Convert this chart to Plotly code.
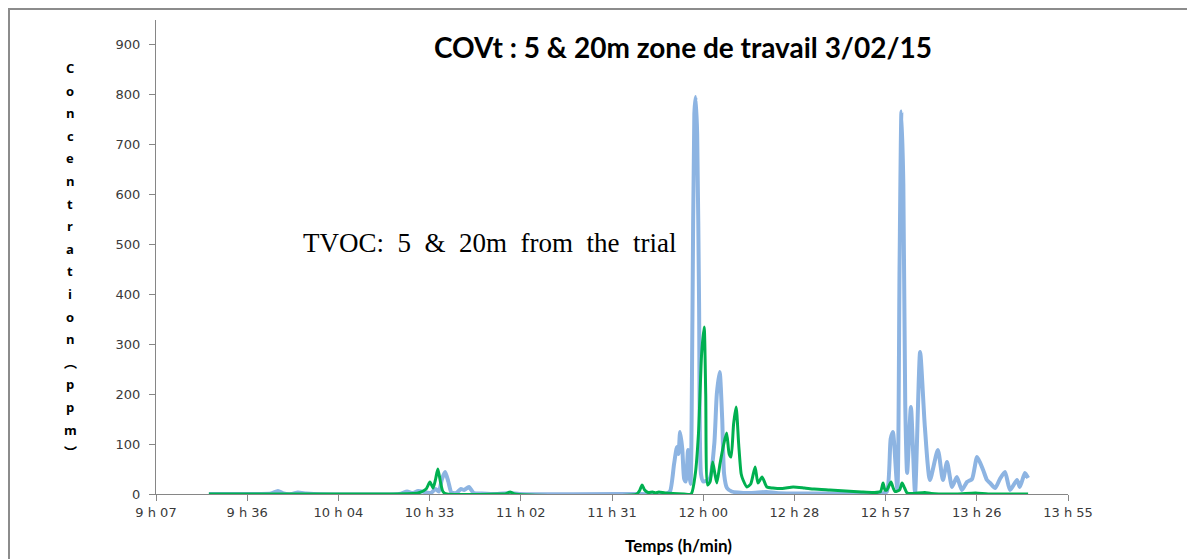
import plotly.graph_objects as go

# Time in minutes since midnight
tick_vals = [547.2, 576.0, 604.8, 633.6, 662.4, 691.2, 720.0, 748.8, 777.6, 806.4, 835.2]
tick_text = ["9 h 07", "9 h 36", "10 h 04", "10 h 33", "11 h 02", "11 h 31",
             "12 h 00", "12 h 28", "12 h 57", "13 h 26", "13 h 55"]

blue_t = [563.9, 580.0, 583.5, 585.7, 587.5, 590.1, 592.0, 594.6, 597.0, 624.0, 626.5, 628.2,
          630.0, 632.1, 634.0, 635.5, 636.5, 637.5, 638.5, 639.5, 640.5, 642.0, 643.5, 644.5,
          646.0, 647.5, 650.0, 655.0, 659.0, 662.0, 700.0, 708.0, 709.5, 710.8, 711.7, 712.2,
          712.7, 713.4, 714.0, 714.5, 715.2, 715.6, 716.0, 716.6, 717.2, 717.6, 718.1, 718.7,
          719.3, 720.0, 722.0, 723.5, 724.3, 725.2, 726.0, 726.6, 727.5, 729.0, 731.0, 735.0,
          740.0, 743.0, 748.0, 760.0, 770.0, 776.0, 778.0, 779.2, 779.9, 781.3, 782.0, 782.6,
          783.2, 783.8, 784.4, 785.6, 786.9, 788.5, 790.0, 791.6, 794.1, 795.7, 797.0, 798.6,
          800.1, 801.7, 803.3, 804.9, 806.5, 808.4, 809.6, 810.6, 812.2, 813.7, 815.3, 816.9,
          819.1, 820.0, 821.6, 822.6]
blue_v = [0, 0, 1, 6, 1, 0, 3, 1, 0, 0, 5, 2,
          6, 4, 2, 10, 5, 30, 44, 25, 3, 2, 10, 8,
          14, 2, 1, 0, 2, 0, 0, 0, 5, 60, 94, 80,
          124, 90, 30, 25, 88, 40, 20, 350, 760, 794, 720, 380,
          40, 25, 30, 100, 200, 244, 150, 40, 12, 5, 3, 2,
          4, 2, 1, 1, 0, 0, 5, 110, 124, 10, 450, 765,
          620, 180, 42, 174, 2, 284, 134, 28, 88, 28, 64, 14,
          34, 8, 24, 30, 74, 48, 28, 22, 12, 30, 44, 8,
          28, 14, 42, 32]

green_t = [563.9, 620.0, 630.0, 632.5, 633.7, 634.7, 635.5, 636.2, 637.0, 637.8, 639.0, 655.0,
           657.5, 659.0, 660.5, 699.0, 700.0, 700.7, 701.5, 702.6, 704.0, 705.0, 706.0, 708.0,
           714.0, 716.2, 717.5, 718.5, 719.5, 720.3, 720.8, 721.4, 722.2, 723.0, 723.7, 724.3,
           725.3, 726.5, 727.4, 728.2, 728.8, 729.6, 730.4, 731.2, 732.0, 732.6, 733.8, 735.0,
           736.4, 737.3, 738.6, 740.1, 742.0, 745.0, 748.4, 752.0, 755.0, 760.0, 765.0, 770.0,
           774.0, 776.0, 776.8, 777.4, 778.0, 779.3, 780.0, 780.6, 782.0, 782.8, 783.6, 784.4,
           786.0, 790.0, 792.0, 800.0, 806.0, 810.0, 822.6]
green_v = [0, 0, 2, 10, 24, 12, 30, 50, 25, 5, 0, 0,
           0, 4, 0, 0, 8, 18, 8, 3, 4, 2, 4, 2,
           0, 0, 40, 120, 280, 334, 200, 18, 25, 64, 40, 22,
           60, 100, 122, 80, 74, 140, 174, 100, 40, 28, 14, 20,
           54, 22, 34, 14, 12, 11, 14, 12, 10, 8, 6, 4,
           3, 5, 22, 8, 8, 24, 12, 5, 8, 22, 12, 2,
           1, 3, 1, 0, 2, 0, 0]

y_letters = list("Concentration") + ["︵", "p", "p", "m", "︶"]

fig = go.Figure()
fig.add_trace(go.Scatter(x=blue_t, y=blue_v, mode="lines", name="5 m",
                         line=dict(color="#8DB4E2", width=4, shape="spline", smoothing=0.6)))
fig.add_trace(go.Scatter(x=green_t, y=green_v, mode="lines", name="20 m",
                         line=dict(color="#00B050", width=3, shape="spline", smoothing=0.6)))

# page has an 8px body margin: figure origin sits at (8, 8) in the window
OFF = 8
W, H = 1195 - OFF, 559 - OFF
L, R, T, B = 156 - OFF, 127, 20 - OFF, 65
pw, ph = W - L - R, H - T - B

def px_to_paper_x(px):
    return (px - 156) / pw

def px_to_paper_y(py):
    return (494 - py) / ph

annotations = [
    dict(text="<b>COVt : 5 &amp; 20m zone de travail 3/02/15</b>", x=px_to_paper_x(683), y=px_to_paper_y(47),
         xref="paper", yref="paper", showarrow=False, xanchor="center", yanchor="middle",
         font=dict(family="Lato, Open Sans, sans-serif", size=28, color="#000000")),
    dict(text="TVOC:\u00a0 5 \u00a0&amp;\u00a0 20m \u00a0from\u00a0 the \u00a0trial", x=px_to_paper_x(489), y=px_to_paper_y(243),
         xref="paper", yref="paper", showarrow=False, xanchor="center", yanchor="middle",
         font=dict(family="Liberation Serif, Times New Roman, serif", size=27, color="#000000")),
    dict(text="<b>Temps (h/min)</b>", x=px_to_paper_x(678), y=px_to_paper_y(545),
         xref="paper", yref="paper", showarrow=False, xanchor="center", yanchor="middle",
         font=dict(family="Lato, Open Sans, sans-serif", size=17, color="#000000")),
]
for i, ch in enumerate(y_letters):
    annotations.append(dict(text="<b>%s</b>" % ch, x=px_to_paper_x(70), y=px_to_paper_y(68 + i * 22.6),
                            xref="paper", yref="paper", showarrow=False, xanchor="center", yanchor="middle",
                            font=dict(family="Open Sans, Noto Sans CJK SC, sans-serif", size=13, color="#000000")))

tick_font = dict(family="DejaVu Sans, sans-serif", size=13, color="#3a3a3a")

fig.update_layout(
    width=W, height=H,
    margin=dict(l=L, r=R, t=T, b=B, autoexpand=False),
    paper_bgcolor="white", plot_bgcolor="white",
    showlegend=False,
    annotations=annotations,
    shapes=[dict(type="rect", xref="paper", yref="paper",
                 x0=px_to_paper_x(9), x1=px_to_paper_x(1220),
                 y0=px_to_paper_y(580), y1=px_to_paper_y(9),
                 line=dict(color="#8C8C8C", width=2), fillcolor="rgba(0,0,0,0)", layer="below")],
    xaxis=dict(range=[547.2, 835.2], tickvals=tick_vals, ticktext=tick_text,
               showgrid=False, zeroline=False, showline=True, linecolor="#868686", linewidth=1,
               ticks="outside", ticklen=6, tickcolor="#868686", tickfont=tick_font),
    yaxis=dict(range=[0, 948], tickvals=[0, 100, 200, 300, 400, 500, 600, 700, 800, 900],
               showgrid=False, zeroline=False, showline=True, linecolor="#868686", linewidth=1,
               ticks="outside", ticklen=6, tickcolor="#868686", ticklabelstandoff=6, tickfont=tick_font),
)

fig.write_html("out.html")
